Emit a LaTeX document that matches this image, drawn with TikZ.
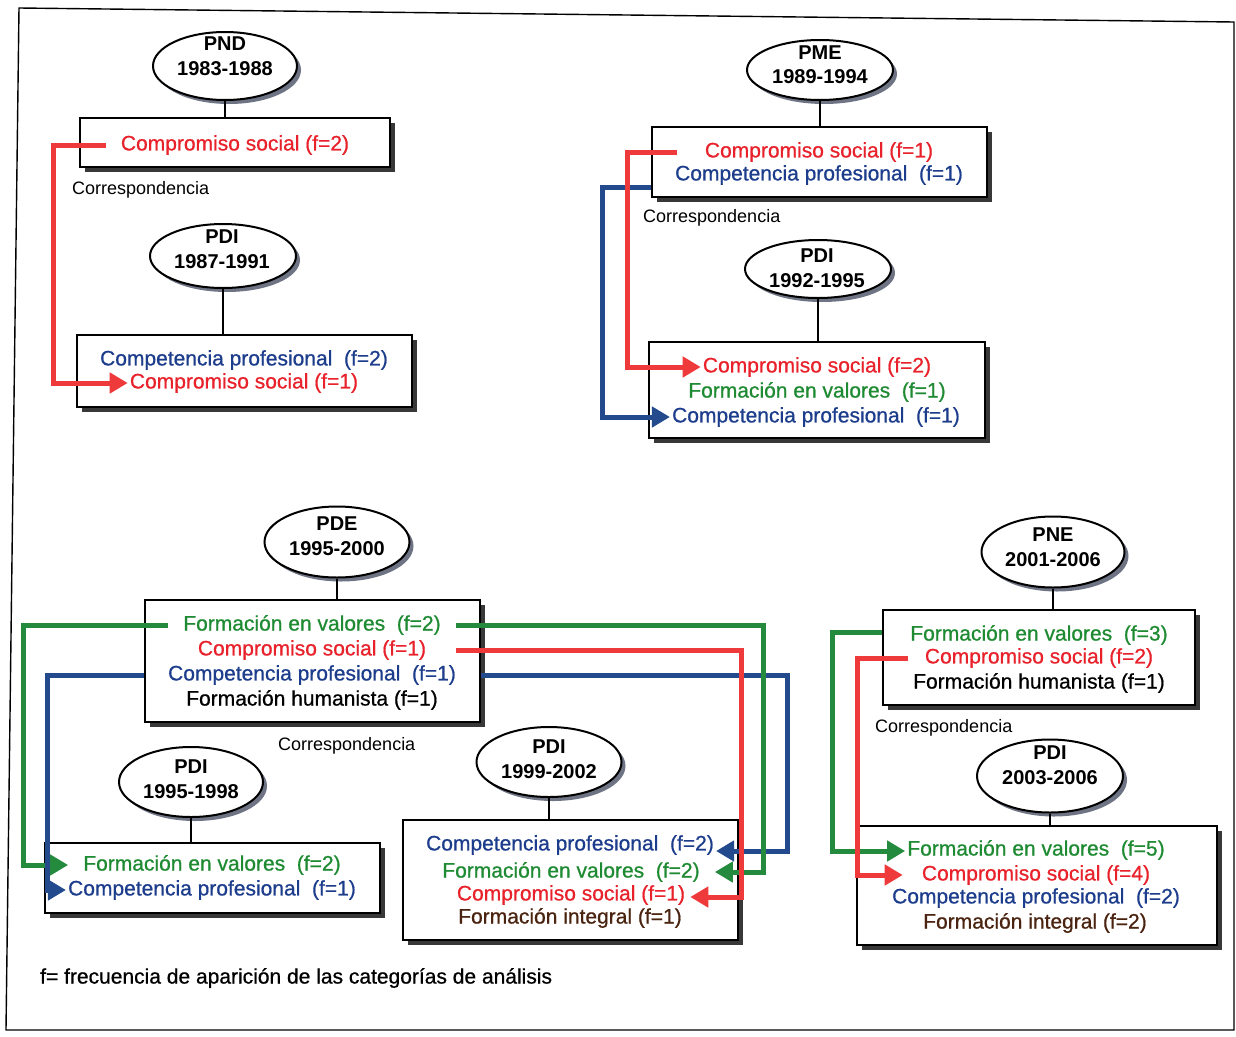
\documentclass[tikz,border=0pt]{standalone}
\usepackage{fontspec}
\setmainfont{Liberation Sans}
\newfontfamily\itemfont{Liberation Sans}[FakeBold=0.7]
\usetikzlibrary{shapes.geometric,arrows.meta,shadows}

\definecolor{txred}{HTML}{E8212B}
\definecolor{txblue}{HTML}{1C3C8C}
\definecolor{txgreen}{HTML}{1E8B32}
\definecolor{txbrown}{HTML}{4A2410}
\definecolor{arred}{HTML}{EE3A3A}
\definecolor{arblue}{HTML}{244A8E}
\definecolor{argreen}{HTML}{248A3E}
\definecolor{ellshadow}{HTML}{6E7484}

\begin{document}
\begin{tikzpicture}[x=1pt,y=-1pt,
  period/.style={ellipse, draw, line width=2pt, fill=white, inner sep=0pt,
    drop shadow={shadow xshift=4pt,shadow yshift=-4pt,fill=ellshadow,opacity=1}},
  periodtext/.style={font=\fontsize{20}{24.5}\selectfont\bfseries, align=center, inner sep=0pt},
  plan/.style={draw, line width=1.6pt, fill=white, inner sep=0pt,
    drop shadow={shadow xshift=5pt,shadow yshift=-5pt,fill=black!78,opacity=1}},
  item/.style={font=\itemfont\fontsize{21}{25}\selectfont, inner sep=2pt},
  note/.style={font=\fontsize{18}{22}\selectfont, inner sep=0pt, anchor=west},
  link/.style={line width=1.4pt},
  flow/.style={line width=5pt, -{Triangle[length=18pt,width=20pt]}},
]
\useasboundingbox (0,0) rectangle (1236,1036);
\fill[white] (0,0) rectangle (1236,1036);

% outer frame
\draw[line width=1.4pt] (19,8) -- (1234,22) -- (1234,1030) -- (6,1030) -- cycle;

% ---------- PND 1983-1988 / PDI 1987-1991 ----------
\node[period, minimum width=144pt, minimum height=68pt] (pnd) at (225,66) {};
\node[periodtext] (pndt) at (225,56) {PND\\1983-1988};
\node[plan, minimum width=310pt, minimum height=49pt] (pndbox) at (235,142.5) {};
\node[item, text=txred] (pnd1) at (235,145) {Compromiso social (f=2)};
\draw[link] (pnd.south) -- (pnd.south |- pndbox.north);
\node[note] (corr1) at (72,190) {Correspondencia};

\node[period, minimum width=146pt, minimum height=64pt] (pdia) at (223,256) {};
\node[periodtext] (pdiat) at (222,249) {PDI\\1987-1991};
\node[plan, minimum width=335pt, minimum height=72pt] (pdiabox) at (244.5,371) {};
\node[item, text=txblue] (pdia1) at (244,360) {Competencia profesional~ (f=2)};
\node[item, text=txred] (pdia2) at (244,383) {Compromiso social (f=1)};
\draw[link] (pdia.south) -- (pdia.south |- pdiabox.north);

\draw[flow, arred] ([xshift=-13pt]pnd1.west) -- ++(-52,0) |- (pdia2.west);

% ---------- PME 1989-1994 / PDI 1992-1995 ----------
\node[period, minimum width=146pt, minimum height=60pt] (pme) at (820,70) {};
\node[periodtext] (pmet) at (820,64.5) {PME\\1989-1994};
\node[plan, minimum width=335pt, minimum height=70pt] (pmebox) at (819.5,162) {};
\node[item, text=txred] (pme1) at (819,152) {Compromiso social (f=1)};
\node[item, text=txblue] (pme2) at (819,175) {Competencia profesional~ (f=1)};
\draw[link] (pme.south) -- (pme.south |- pmebox.north);
\node[note] (corr2) at (643,218) {Correspondencia};

\node[period, minimum width=146pt, minimum height=58pt] (pdib) at (818,269) {};
\node[periodtext] (pdibt) at (817,268) {PDI\\1992-1995};
\node[plan, minimum width=336pt, minimum height=96pt] (pdibbox) at (817,390) {};
\node[item, text=txred] (pdib1) at (817,367) {Compromiso social (f=2)};
\node[item, text=txgreen] (pdib2) at (817,392) {Formación en valores~ (f=1)};
\node[item, text=txblue] (pdib3) at (816,417) {Competencia profesional~ (f=1)};
\draw[link] (pdib.south) -- (pdib.south |- pdibbox.north);

\draw[flow, arblue] ([yshift=-25pt]pmebox.west) -- ++(-49,0) |- (pdib3.west);
\draw[flow, arred] ([xshift=-26pt]pme1.west) -- ++(-49,0) |- (pdib1.west);

% ---------- PDE 1995-2000 / PDI 1995-1998 / PDI 1999-2002 ----------
\node[period, minimum width=145pt, minimum height=71pt] (pde) at (337,542) {};
\node[periodtext] (pdet) at (337,536) {PDE\\1995-2000};
\node[plan, minimum width=335pt, minimum height=122pt] (pdebox) at (312.5,661) {};
\node[item, text=txgreen] (pde1) at (312,625) {Formación en valores~ (f=2)};
\node[item, text=txred] (pde2) at (312,650) {Compromiso social (f=1)};
\node[item, text=txblue] (pde3) at (312,675) {Competencia profesional~ (f=1)};
\node[item, text=black] (pde4) at (312,700) {Formación humanista (f=1)};
\draw[link] (pde.south) -- (pde.south |- pdebox.north);
\node[note] (corr3) at (278,746) {Correspondencia};

\node[period, minimum width=144pt, minimum height=70pt] (pdic) at (191,782) {};
\node[periodtext] (pdict) at (191,779) {PDI\\1995-1998};
\node[plan, minimum width=335pt, minimum height=70pt] (pdicbox) at (212.5,878) {};
\node[item, text=txgreen] (pdic1) at (212,865) {Formación en valores~ (f=2)};
\node[item, text=txblue] (pdic2) at (212,890) {Competencia profesional~ (f=1)};
\draw[link] (pdic.south) -- (pdic.south |- pdicbox.north);

\node[period, minimum width=145pt, minimum height=70pt] (pdid) at (549,762) {};
\node[periodtext] (pdidt) at (549,759) {PDI\\1999-2002};
\node[plan, minimum width=335pt, minimum height=120pt] (pdidbox) at (570.5,880) {};
\node[item, text=txblue] (pdid1) at (570,845) {Competencia profesional~ (f=2)};
\node[item, text=txgreen] (pdid2) at (571,872) {Formación en valores~ (f=2)};
\node[item, text=txred] (pdid3) at (571,895) {Compromiso social (f=1)};
\node[item, text=txbrown] (pdid4) at (570,918) {Formación integral (f=1)};
\draw[link] (pdid.south) -- (pdid.south |- pdidbox.north);

\draw[flow, argreen] ([xshift=-13pt]pde1.west) -- ++(-145,0) |- ([xshift=-13pt]pdic1.west);
\draw[flow, arblue] (pdebox.west |- pde3) -- ++(-97,0) |- (pdic2.west);

\draw[flow, arblue] (pdebox.east |- pde3) -- ++(307,0) |- ([yshift=-6pt]pdid1.east);
\draw[flow, argreen] ([xshift=13pt]pde1.east) -- ++(308,0) |- ([xshift=13pt]pdid2.east);
\draw[flow, arred] ([xshift=28pt]pde2.east) -- ++(285,0) |- ([xshift=3pt,yshift=-2pt]pdid3.east);

% ---------- PNE 2001-2006 / PDI 2003-2006 ----------
\node[period, minimum width=143pt, minimum height=71pt] (pne) at (1053,552) {};
\node[periodtext] (pnet) at (1053,547) {PNE\\2001-2006};
\node[plan, minimum width=312pt, minimum height=95pt] (pnebox) at (1039,657.5) {};
\node[item, text=txgreen] (pne1) at (1039,635) {Formación en valores~ (f=3)};
\node[item, text=txred] (pne2) at (1039,658) {Compromiso social (f=2)};
\node[item, text=black] (pne3) at (1039,683) {Formación humanista (f=1)};
\draw[link] (pne.south) -- (pne.south |- pnebox.north);
\node[note] (corr4) at (875,728) {Correspondencia};

\node[period, minimum width=146pt, minimum height=73pt] (pdie) at (1050,776) {};
\node[periodtext] (pdiet) at (1050,765) {PDI\\2003-2006};
\node[plan, minimum width=360pt, minimum height=119pt] (pdiebox) at (1037,885.5) {};
\node[item, text=txgreen] (pdie1) at (1036,850) {Formación en valores~ (f=5)};
\node[item, text=txred] (pdie2) at (1036,875) {Compromiso social (f=4)};
\node[item, text=txblue] (pdie3) at (1036,898) {Competencia profesional~ (f=2)};
\node[item, text=txbrown] (pdie4) at (1035,923) {Formación integral (f=2)};
\draw[link] (pdie.south) -- (pdie.south |- pdiebox.north);

\draw[flow, argreen] ([yshift=3pt]pnebox.west |- pne1) -- ++(-50,0) |- ([yshift=-1pt]pdie1.west);
\draw[flow, arred] ([xshift=-15pt]pne2.west) -- ++(-50,0) |- ([xshift=-17pt]pdie2.west);

% ---------- legend ----------
\node[item, inner sep=0pt, anchor=west] (legend) at (40,978)
  {f= frecuencia de aparición de las categorías de análisis};

\end{tikzpicture}
\end{document}
